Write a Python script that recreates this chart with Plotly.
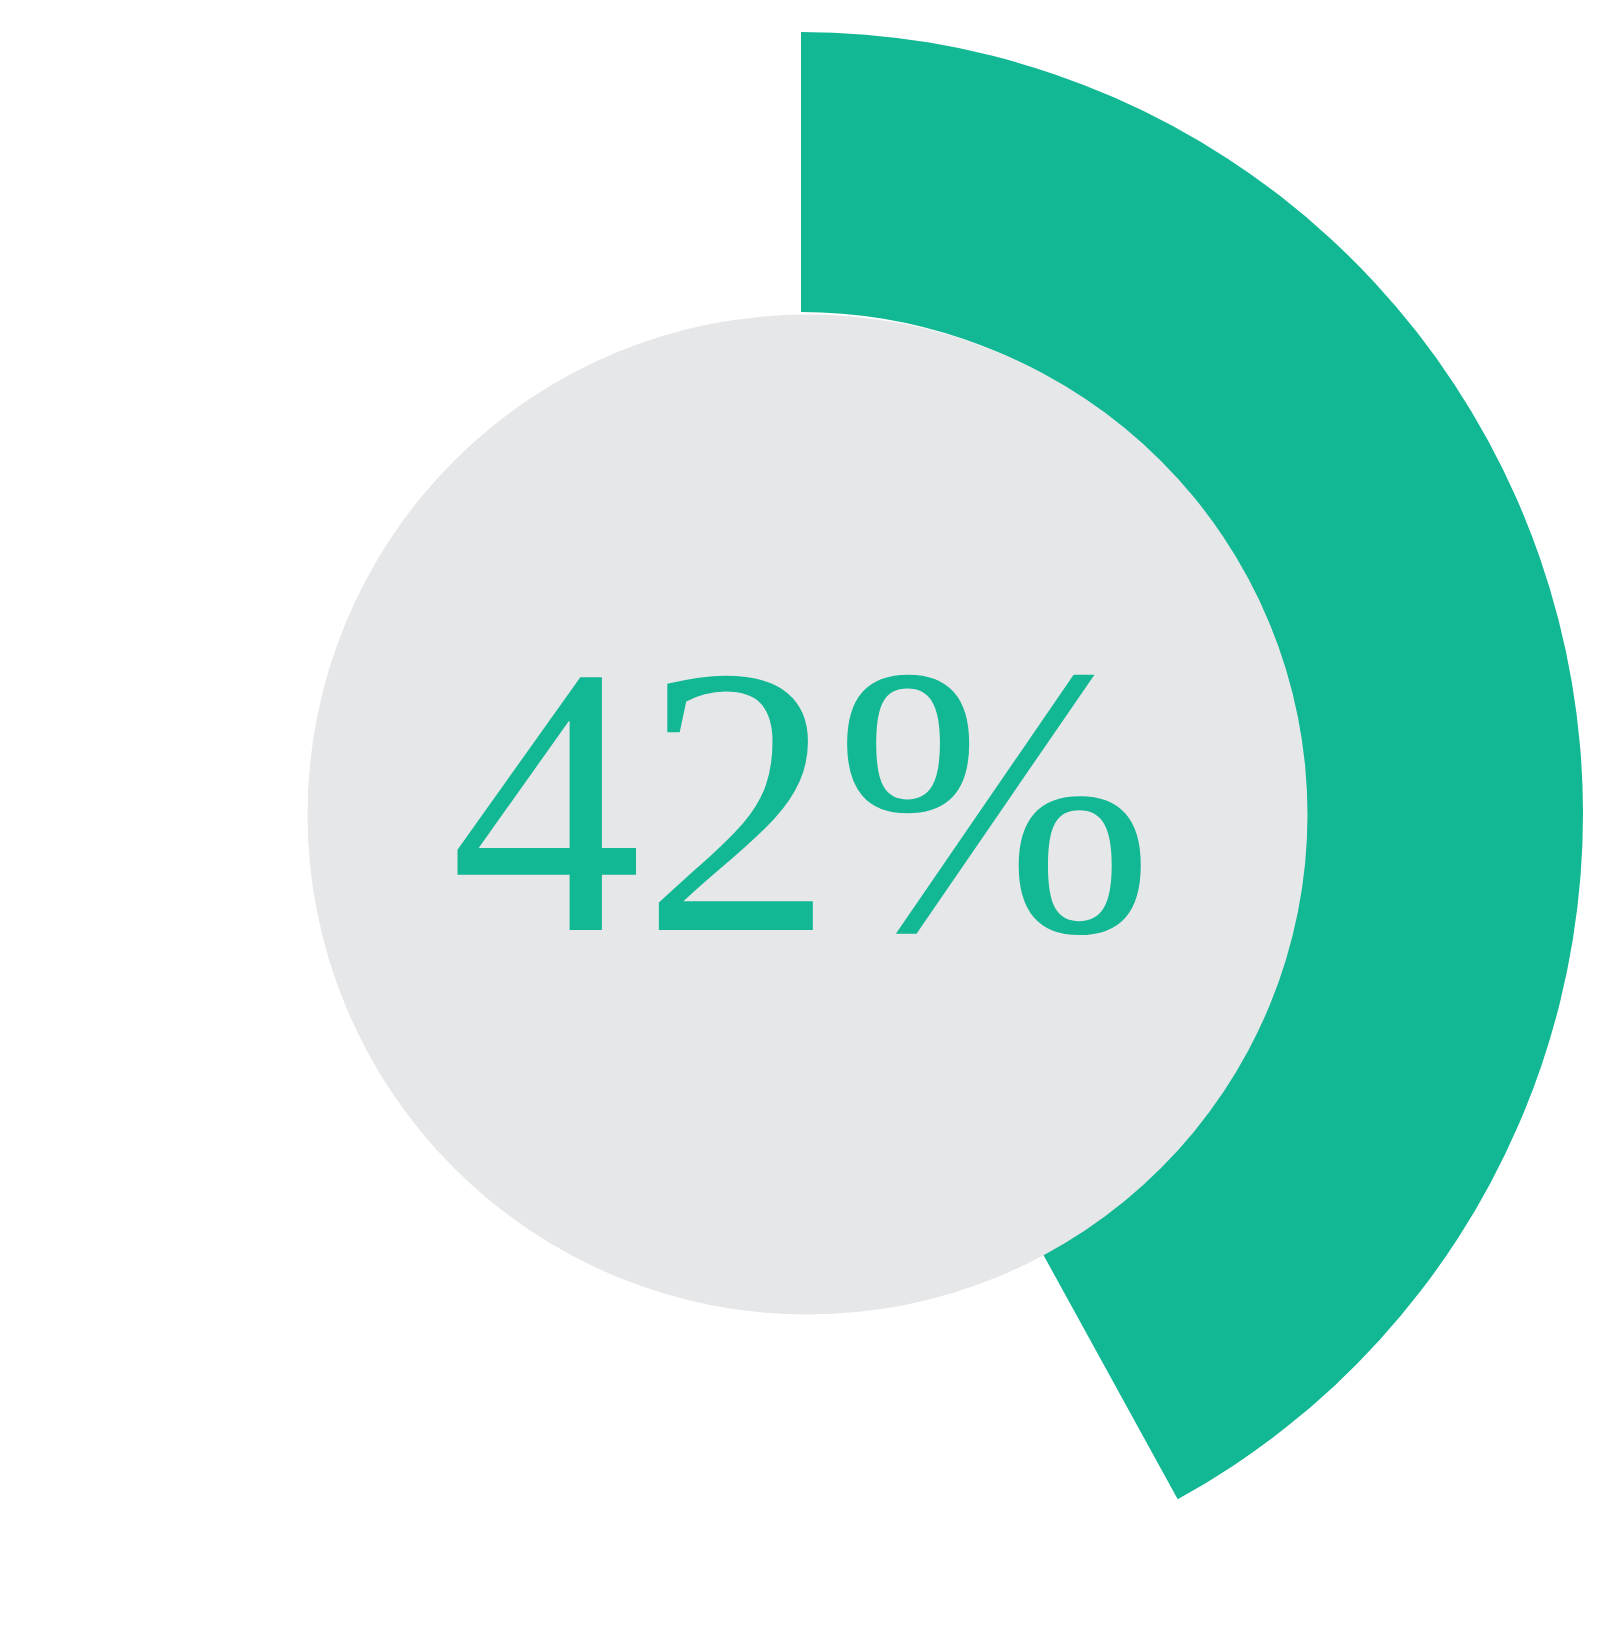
import plotly.graph_objects as go

# Data
labels = ["Done", "Remaining"]
values = [42, 58]
slice_colors = ["#12B793", "rgba(0,0,0,0)"]

W, H = 1600, 1630

fig = go.Figure()

# Ring: the filled share, the rest left transparent
fig.add_trace(
    go.Pie(
        labels=labels,
        values=values,
        sort=False,
        direction="clockwise",
        rotation=0,
        hole=0.642,
        marker=dict(colors=slice_colors, line=dict(width=0)),
        textinfo="none",
        hoverinfo="skip",
        showlegend=False,
        domain=dict(x=[0.006875, 0.984375], y=[0.025767, 0.985276]),
    )
)

# Grey disc in the middle
fig.add_shape(
    type="circle",
    xref="paper",
    yref="paper",
    x0=299.5 / W,
    x1=1299.5 / W,
    y0=323.5 / H,
    y1=1323.5 / H,
    fillcolor="#E6E7E9",
    line=dict(width=0),
    layer="above",
)

share = values[0] / sum(values) * 100
fig.add_annotation(
    text=f"{share:.0f}%",
    x=0.49605,
    y=0.5139,
    xref="paper",
    yref="paper",
    xanchor="center",
    yanchor="middle",
    showarrow=False,
    font=dict(family="Liberation Serif", size=384, color="#12B793"),
)

fig.update_layout(
    width=W,
    height=H,
    margin=dict(l=0, r=0, t=0, b=0),
    paper_bgcolor="white",
    plot_bgcolor="white",
)

fig.write_html("out.html")
